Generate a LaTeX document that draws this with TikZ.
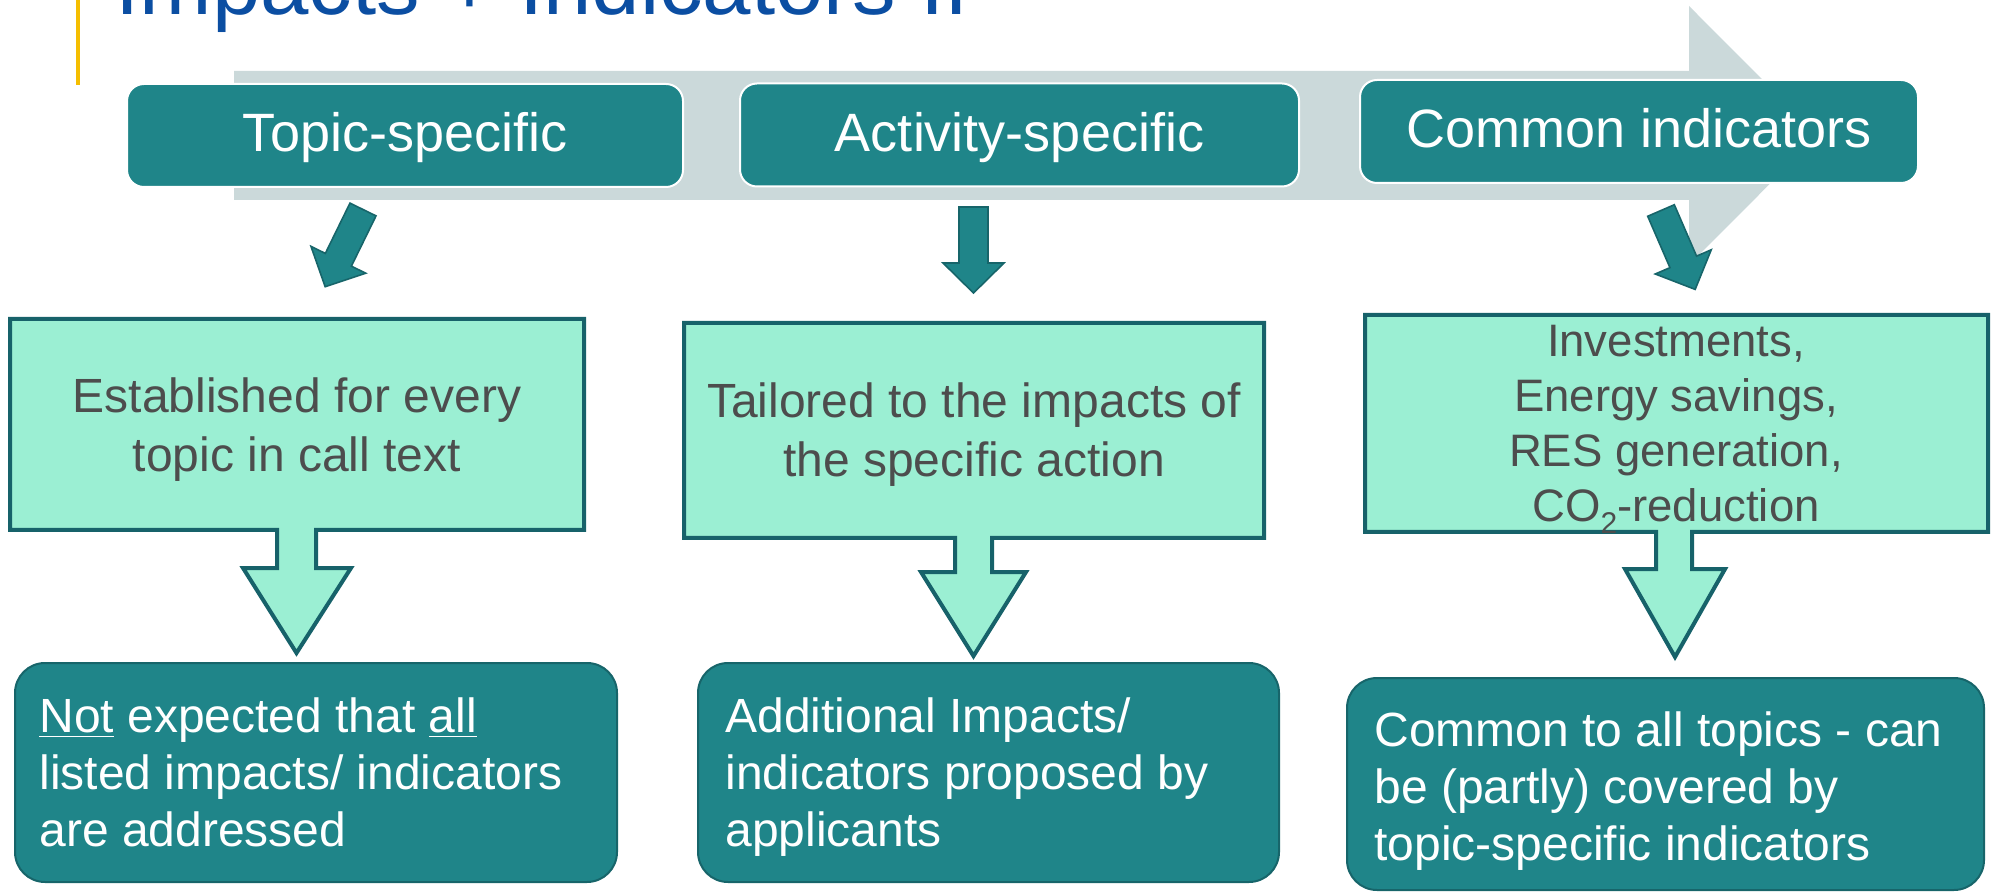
\documentclass[tikz,border=0pt]{standalone}
\usepackage{fontspec}
\setmainfont{Liberation Sans}
\definecolor{tealfill}{HTML}{1F8589}
\definecolor{tealdark}{HTML}{17656A}
\definecolor{mintfill}{HTML}{9BEFD3}
\definecolor{mintborder}{HTML}{17626A}
\definecolor{greyarrow}{HTML}{CBD9DA}
\definecolor{txtgrey}{HTML}{4D4D4D}
\definecolor{titleblue}{HTML}{0B4EA2}
\definecolor{accentyellow}{HTML}{F5BE00}
\begin{document}
\begin{tikzpicture}[x=0.5pt,y=-0.5pt,
  topbox/.style={draw=white, line width=1pt, fill=tealfill, rounded corners=8.5pt,
    text=white, font=\fontsize{27}{32}\selectfont, inner sep=0pt,
    minimum height=51.5pt, text height=22pt, text depth=5.5pt},
  midbox/.style={draw=mintborder, line width=2pt, fill=mintfill, line join=miter},
  midtext/.style={text=txtgrey, align=center, inner sep=0pt},
  botbox/.style={draw=tealdark, line width=1pt, fill=tealfill, rounded corners=15pt, inner sep=0pt},
  bottext/.style={text=white, align=left, inner sep=0pt, anchor=west,
    font=\fontsize{24}{28.5}\selectfont},
  smallarrow/.style={draw=tealdark, line width=0.8pt, fill=tealfill, line join=miter},
  pics/blockarr/.style={code={
    \draw[smallarrow] (-14.5,0) -- (14.5,0) -- (14.5,56) -- (30.5,56) -- (0,86)
      -- (-30.5,56) -- (-14.5,56) -- cycle;}}
]
\useasboundingbox (0,0) rectangle (1996,892);
\clip (0,0) rectangle (1996,892);

% title and accent bar
\fill[accentyellow] (76,0) rectangle (80,85);
\node[anchor=base west, inner sep=0pt, text=titleblue, font=\fontsize{43.5}{50}\selectfont]
  (title) at (115,15) {Impacts + Indicators II};

% big grey process arrow
\fill[greyarrow] (234,71) -- (1689,71) -- (1689,6) -- (1818,135.5) -- (1689,265)
  -- (1689,200) -- (234,200) -- cycle;

% top row
\node[topbox, minimum width=278pt] (topA) at (405,135.5) {Topic-specific};
\node[topbox, minimum width=279.5pt] (topB) at (1019.5,135) {Activity-specific};
\node[topbox, minimum width=279pt] (topC) at (1639,131.5) {Common indicators};

% small teal arrows
\pic[rotate=-26.1] at (363,209.5) {blockarr};
\pic at (973.5,207) {blockarr};
\pic[rotate=23.4] at (1661,210.5) {blockarr};

% middle row (boxes with down-arrow callouts)
\draw[midbox] (10,319) -- (584,319) -- (584,530) -- (316,530) -- (316,568) -- (351,568)
  -- (296.5,653) -- (243,568) -- (277,568) -- (277,530) -- (10,530) -- cycle;
\draw[midbox] (684,323) -- (1264,323) -- (1264,538) -- (992,538) -- (992,572) -- (1026,572)
  -- (973.5,656) -- (921,572) -- (955,572) -- (955,538) -- (684,538) -- cycle;
\draw[midbox] (1365,315) -- (1988,315) -- (1988,532) -- (1692,532) -- (1692,569) -- (1725,569)
  -- (1675,657) -- (1625,569) -- (1656,569) -- (1656,532) -- (1365,532) -- cycle;

\node[midtext, font=\fontsize{24}{29.5}\selectfont] (midA) at (297,430)
  {Established for every\\topic in call text};
\node[midtext, font=\fontsize{24}{29.5}\selectfont] (midB) at (974,435)
  {Tailored to the impacts of\\the specific action};
\node[midtext, font=\fontsize{22.75}{27.5}\selectfont] (midC) at (1676,429.7)
  {Investments,\\Energy savings,\\RES generation,\\CO\raisebox{-6pt}{\fontsize{15}{15}\selectfont 2}-reduction};

% bottom row
\node[botbox, minimum width=301pt, minimum height=109.5pt] (botA) at (316,772.5) {};
\node[botbox, minimum width=290.5pt, minimum height=109.5pt] (botB) at (988.5,772.5) {};
\node[botbox, minimum width=318.5pt, minimum height=106pt] (botC) at (1665.5,784) {};

\node[bottext] (botAtext) at (39,772.5)
  {\underline{Not} expected that \underline{all}\\listed impacts/ indicators\\are addressed};
\node[bottext] (botBtext) at (725,777.5)
  {Additional Impacts/\\indicators proposed by\\applicants};
\node[bottext] (botCtext) at (1374,790.75)
  {Common to all topics - can\\be (partly) covered by\\topic-specific indicators};
\end{tikzpicture}
\end{document}
